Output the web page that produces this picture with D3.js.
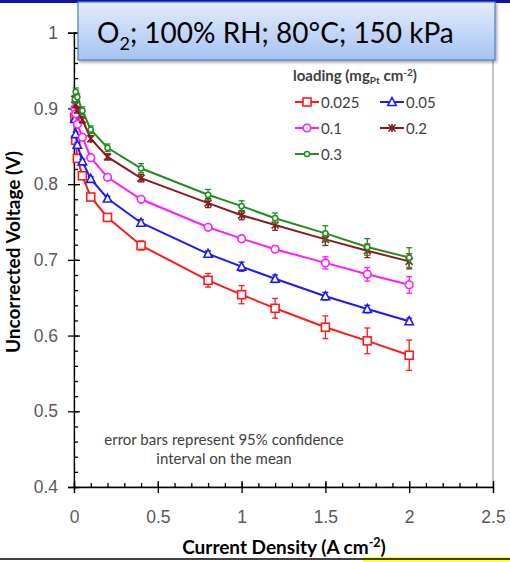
<!DOCTYPE html>
<html>
<head>
<meta charset="utf-8">
<script src="https://cdn.jsdelivr.net/npm/d3@7/dist/d3.min.js"></script>
<style>
  body { margin: 0; background: #fff; }
  svg { display: block; font-family: Lato, "Open Sans", sans-serif; }
  .tick text { fill: #595959; font-size: 17.5px; }
  .axis path, .axis line { stroke: #000; stroke-width: 1.3px; }
</style>
</head>
<body>
<svg id="chart" width="510" height="562"></svg>
<script>
// current density (A cm-2)
var xs = [0.005, 0.01, 0.02, 0.05, 0.1, 0.2, 0.4, 0.8, 1.0, 1.2, 1.5, 1.75, 2.0];

var loadings = ['0.025', '0.05', '0.1', '0.2', '0.3'];
var colors = ['#ff1a1a', '#1a1aff', '#ff1aff', '#8b1a1a', '#1f8f1f'];
var markers = ['square', 'triangle', 'circle', 'star', 'smallcircle'];

// voltage (V) per loading
var v025 = [0.888, 0.858, 0.834, 0.811, 0.783, 0.756, 0.719, 0.673, 0.654, 0.636, 0.611, 0.593, 0.574];
var v05  = [0.886, 0.866, 0.852, 0.830, 0.807, 0.781, 0.749, 0.708, 0.691, 0.675, 0.652, 0.635, 0.619];
var v1   = [0.900, 0.893, 0.879, 0.862, 0.835, 0.809, 0.780, 0.743, 0.728, 0.714, 0.696, 0.681, 0.667];
var v2   = [0.912, 0.905, 0.898, 0.885, 0.860, 0.836, 0.808, 0.775, 0.759, 0.746, 0.727, 0.712, 0.698];
var v3   = [0.912, 0.922, 0.915, 0.897, 0.872, 0.848, 0.821, 0.786, 0.771, 0.755, 0.735, 0.717, 0.703];

// 95% CI half widths (V)
var e025 = [0.004, 0.004, 0.004, 0.004, 0.004, 0.005, 0.006, 0.009, 0.012, 0.013, 0.015, 0.017, 0.020];
var e05  = [0.003, 0.003, 0.003, 0.003, 0.003, 0.003, 0.004, 0.004, 0.006, 0.005, 0.005, 0.005, 0.004];
var e1   = [0.003, 0.003, 0.003, 0.003, 0.003, 0.003, 0.003, 0.003, 0.003, 0.004, 0.008, 0.009, 0.011];
var e2   = [0.004, 0.004, 0.004, 0.004, 0.004, 0.004, 0.005, 0.006, 0.006, 0.007, 0.008, 0.009, 0.010];
var e3   = [0.005, 0.005, 0.005, 0.005, 0.005, 0.005, 0.006, 0.007, 0.007, 0.007, 0.010, 0.011, 0.013];

var xTicks = [0, 0.5, 1, 1.5, 2, 2.5];
var yTicks = [0.4, 0.5, 0.6, 0.7, 0.8, 0.9, 1];

var vals = [v025, v05, v1, v2, v3];
var errs = [e025, e05, e1, e2, e3];

var svg = d3.select('#chart');

var x = d3.scaleLinear().domain([0, 2.5]).range([74, 493]);
var y = d3.scaleLinear().domain([0.4, 1]).range([487, 32.7]);

// slide decorations
svg.append('rect').attr('x', 0).attr('y', 0).attr('width', 510).attr('height', 3).attr('fill', '#1111b8');
svg.append('rect').attr('x', 363).attr('y', 557).attr('width', 147).attr('height', 5).attr('fill', '#ffff33');
svg.append('line').attr('x1', 0).attr('x2', 510).attr('y1', 559).attr('y2', 559).attr('stroke', '#000').attr('stroke-width', 1.5);

// plot frame
svg.append('rect')
  .attr('x', x(0)).attr('y', y(1))
  .attr('width', x(2.5) - x(0)).attr('height', y(0.4) - y(1))
  .attr('fill', 'none').attr('stroke', '#8c8c8c').attr('stroke-width', 1);

// minor ticks (inside)
svg.append('g').attr('class', 'axis')
  .attr('transform', 'translate(' + x(0) + ',0)')
  .call(d3.axisRight(y).tickValues(d3.range(0.4, 1.001, 0.02)).tickSize(4).tickFormat(''))
  .call(g => g.select('.domain').remove());
svg.append('g').attr('class', 'axis')
  .attr('transform', 'translate(0,' + y(0.4) + ')')
  .call(d3.axisTop(x).tickValues(d3.range(0, 2.501, 0.1)).tickSize(4).tickFormat(''))
  .call(g => g.select('.domain').remove());

// major axes
var yAxis = svg.append('g').attr('class', 'axis')
  .attr('transform', 'translate(' + x(0) + ',0)')
  .call(d3.axisLeft(y).tickValues(yTicks).tickSizeOuter(0).tickSize(6).tickPadding(10).tickFormat(d3.format('')));
yAxis.selectAll('.tick line').attr('x1', 6);

var xAxis = svg.append('g').attr('class', 'axis')
  .attr('transform', 'translate(0,' + y(0.4) + ')')
  .call(d3.axisBottom(x).tickValues(xTicks).tickSizeOuter(0).tickSize(6).tickPadding(18).tickFormat(d3.format('')));
xAxis.selectAll('.tick line').attr('y1', -6);

// axis titles
svg.append('text')
  .attr('transform', 'translate(20,252) rotate(-90)')
  .attr('text-anchor', 'middle')
  .style('font-weight', 'bold').style('font-size', '19px').attr('fill', '#000')
  .text('Uncorrected Voltage (V)');

var xt = svg.append('text')
  .attr('x', 284).attr('y', 554)
  .attr('text-anchor', 'middle')
  .style('font-weight', 'bold').style('font-size', '19px').attr('fill', '#000');
xt.append('tspan').text('Current Density (A cm');
xt.append('tspan').attr('dy', -7).style('font-size', '12.5px').text('-2');
xt.append('tspan').attr('dy', 7).text(')');

// marker drawing
function drawMarker(g, type, color) {
  if (type === 'square') {
    g.append('rect').attr('x', -4).attr('y', -4).attr('width', 8).attr('height', 8)
      .attr('fill', '#fff').attr('stroke', color).attr('stroke-width', 1.6);
  } else if (type === 'triangle') {
    g.append('path').attr('d', 'M0,-4.5L4.2,3.5L-4.2,3.5Z')
      .attr('fill', '#fff').attr('stroke', color).attr('stroke-width', 1.6);
  } else if (type === 'circle') {
    g.append('circle').attr('r', 3.8)
      .attr('fill', '#fff').attr('stroke', color).attr('stroke-width', 1.6);
  } else if (type === 'star') {
    g.append('path').attr('d', 'M-3.5,-3.5L3.5,3.5M-3.5,3.5L3.5,-3.5M0,-4L0,4')
      .attr('fill', 'none').attr('stroke', color).attr('stroke-width', 1.6);
  } else {
    g.append('circle').attr('r', 2.6)
      .attr('fill', '#fff').attr('stroke', color).attr('stroke-width', 1.5);
  }
}

var line = d3.line().x(d => x(d[0])).y(d => y(d[1]));

vals.forEach(function(v, k) {
  var pts = xs.map((d, i) => [d, v[i], errs[k][i]]);
  var col = colors[k];
  var g = svg.append('g');

  // error bars
  var eb = g.selectAll('.eb').data(pts).enter().append('g');
  eb.append('line')
    .attr('x1', d => x(d[0])).attr('x2', d => x(d[0]))
    .attr('y1', d => y(d[1] - d[2])).attr('y2', d => y(d[1] + d[2]))
    .attr('stroke', col).attr('stroke-width', 1.3);
  eb.append('line')
    .attr('x1', d => x(d[0]) - 3).attr('x2', d => x(d[0]) + 3)
    .attr('y1', d => y(d[1] - d[2])).attr('y2', d => y(d[1] - d[2]))
    .attr('stroke', col).attr('stroke-width', 1.3);
  eb.append('line')
    .attr('x1', d => x(d[0]) - 3).attr('x2', d => x(d[0]) + 3)
    .attr('y1', d => y(d[1] + d[2])).attr('y2', d => y(d[1] + d[2]))
    .attr('stroke', col).attr('stroke-width', 1.3);

  g.append('path').datum(pts)
    .attr('d', line).attr('fill', 'none')
    .attr('stroke', col).attr('stroke-width', 2);

  g.selectAll('.mk').data(pts).enter().append('g')
    .attr('transform', d => 'translate(' + x(d[0]) + ',' + y(d[1]) + ')')
    .each(function() { drawMarker(d3.select(this), markers[k], col); });
});

// legend
var lt = svg.append('text').attr('x', 293).attr('y', 81)
  .style('font-weight', 'bold').style('font-size', '15px').attr('fill', '#404040');
lt.append('tspan').text('loading (mg');
lt.append('tspan').attr('dy', 3).style('font-size', '10px').text('Pt');
lt.append('tspan').attr('dy', -3).text(' cm');
lt.append('tspan').attr('dy', -5).style('font-size', '10px').text('-2');
lt.append('tspan').attr('dy', 5).text(')');

var legPos = [[295, 102], [380, 102], [295, 128], [380, 128], [295, 154]];
loadings.forEach(function(name, k) {
  var g = svg.append('g').attr('transform', 'translate(' + legPos[k][0] + ',' + legPos[k][1] + ')');
  g.append('line').attr('x1', 0).attr('x2', 24).attr('stroke', colors[k]).attr('stroke-width', 2);
  var m = g.append('g').attr('transform', 'translate(12,0)');
  drawMarker(m, markers[k], colors[k]);
  g.append('text').attr('x', 26).attr('y', 5.5)
    .style('font-size', '15px').attr('fill', '#404040').text(name);
});

// note
svg.append('text').attr('x', 224).attr('y', 445).attr('text-anchor', 'middle')
  .style('font-size', '15px').attr('fill', '#404040')
  .text('error bars represent 95% confidence');
svg.append('text').attr('x', 224).attr('y', 464).attr('text-anchor', 'middle')
  .style('font-size', '15px').attr('fill', '#404040')
  .text('interval on the mean');

// title box
var defs = svg.append('defs');
var grad = defs.append('linearGradient').attr('id', 'tg').attr('x1', 0).attr('y1', 0).attr('x2', 0).attr('y2', 1);
grad.append('stop').attr('offset', '0%').attr('stop-color', '#e3edfc');
grad.append('stop').attr('offset', '100%').attr('stop-color', '#a6c3f2');
var sh = defs.append('filter').attr('id', 'sh').attr('x', '-5%').attr('y', '-10%').attr('width', '115%').attr('height', '140%');
sh.append('feDropShadow').attr('dx', 1.5).attr('dy', 2).attr('stdDeviation', 1.5).attr('flood-color', '#000').attr('flood-opacity', 0.35);

svg.append('rect').attr('x', 78).attr('y', 2).attr('width', 417).attr('height', 58)
  .attr('fill', 'url(#tg)').attr('stroke', '#4f81bd').attr('stroke-width', 1.2)
  .attr('filter', 'url(#sh)');
var tt = svg.append('text').attr('x', 97).attr('y', 43)
  .style('font-size', '28px').attr('fill', '#000');
tt.append('tspan').text('O');
tt.append('tspan').attr('dy', 7).style('font-size', '18px').text('2');
tt.append('tspan').attr('dy', -7).text('; 100% RH; 80°C; 150 kPa');
</script>
</body>
</html>
